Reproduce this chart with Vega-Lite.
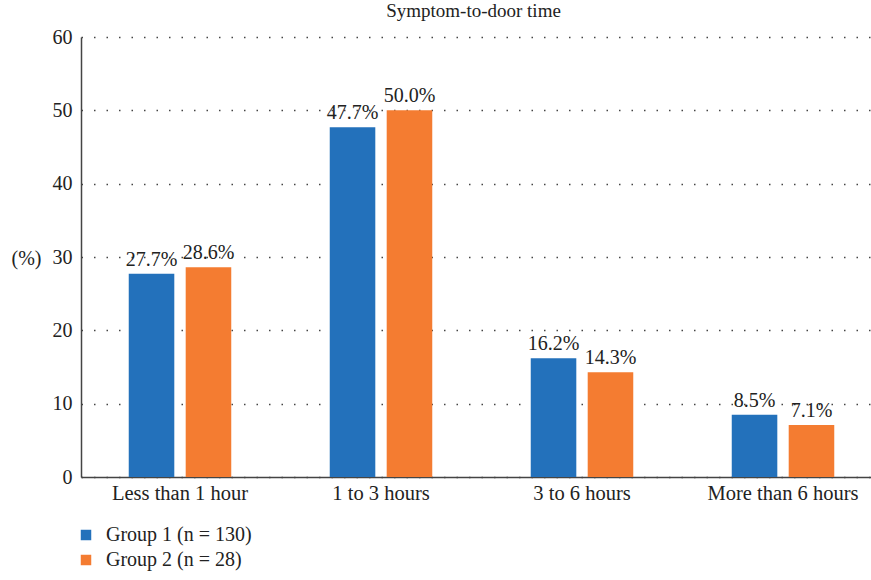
{
  "$schema": "https://vega.github.io/schema/vega-lite/v6.json",
  "width": 785,
  "height": 440,
  "autosize": {"type": "none"},
  "padding": {"left": 81, "top": 37, "right": 5, "bottom": 103},
  "background": "white",
  "title": {"text": "Symptom-to-door time", "font": "Liberation Serif", "fontSize": 19, "fontWeight": "normal", "color": "#222", "anchor": "middle", "offset": 6},
  "config": {
    "font": "Liberation Serif",
    "view": {"stroke": null}
  },
  "data": {
    "values": [
      {"time": "Less than 1 hour", "group": "Group 1 (n = 130)", "pct": 27.7},
      {"time": "Less than 1 hour", "group": "Group 2 (n = 28)", "pct": 28.6},
      {"time": "1 to 3 hours", "group": "Group 1 (n = 130)", "pct": 47.7},
      {"time": "1 to 3 hours", "group": "Group 2 (n = 28)", "pct": 50.0},
      {"time": "3 to 6 hours", "group": "Group 1 (n = 130)", "pct": 16.2},
      {"time": "3 to 6 hours", "group": "Group 2 (n = 28)", "pct": 14.3},
      {"time": "More than 6 hours", "group": "Group 1 (n = 130)", "pct": 8.5},
      {"time": "More than 6 hours", "group": "Group 2 (n = 28)", "pct": 7.1}
    ]
  },
  "encoding": {
    "x": {
      "field": "time", "type": "nominal",
      "sort": ["Less than 1 hour", "1 to 3 hours", "3 to 6 hours", "More than 6 hours"],
      "scale": {"paddingInner": 0.49, "paddingOuter": 0.2375, "range": [0, 801]},
      "axis": {"title": null, "labelAngle": 0, "labelFontSize": 20.5, "labelColor": "#222", "labelFont": "Liberation Serif", "ticks": false, "labelPadding": 6, "domainColor": "#444", "domainWidth": 1.5}
    },
    "xOffset": {"field": "group", "type": "nominal", "scale": {"paddingInner": 0.2}},
    "y": {
      "field": "pct", "type": "quantitative",
      "scale": {"domain": [0, 60]},
      "axis": {
        "title": "(%)", "titleAngle": 0, "titleFontSize": 20, "titleFontWeight": "normal", "titleColor": "#222", "titleFont": "Liberation Serif",
        "titleX": -55, "titleY": 221, "titleAlign": "center", "titleBaseline": "middle",
        "values": [0, 10, 20, 30, 40, 50, 60],
        "labelFontSize": 20, "labelColor": "#222", "labelFont": "Liberation Serif", "labelPadding": 9,
        "ticks": false, "domainColor": "#444", "domainWidth": 1.5,
        "grid": true, "gridColor": "#444", "gridDash": [1.5, 11], "gridWidth": 1.3
      }
    },
    "color": {
      "field": "group", "type": "nominal",
      "scale": {"range": ["#2371BB", "#F47C31"]},
      "legend": {
        "title": null, "orient": "none", "legendX": -5, "legendY": 488, "direction": "vertical",
        "symbolType": "square", "symbolSize": 110, "symbolStrokeWidth": 0,
        "labelFontSize": 20, "labelColor": "#222", "labelFont": "Liberation Serif", "labelOffset": 10, "rowPadding": 5
      }
    }
  },
  "layer": [
    {"mark": {"type": "bar"}},
    {
      "transform": [{"calculate": "format(datum.pct, '.1f') + '%'", "as": "label"}],
      "mark": {"type": "text", "dy": -14, "fontSize": 20, "color": "#222", "font": "Liberation Serif"},
      "encoding": {"text": {"field": "label"}, "color": {"value": "#222"}}
    }
  ]
}
